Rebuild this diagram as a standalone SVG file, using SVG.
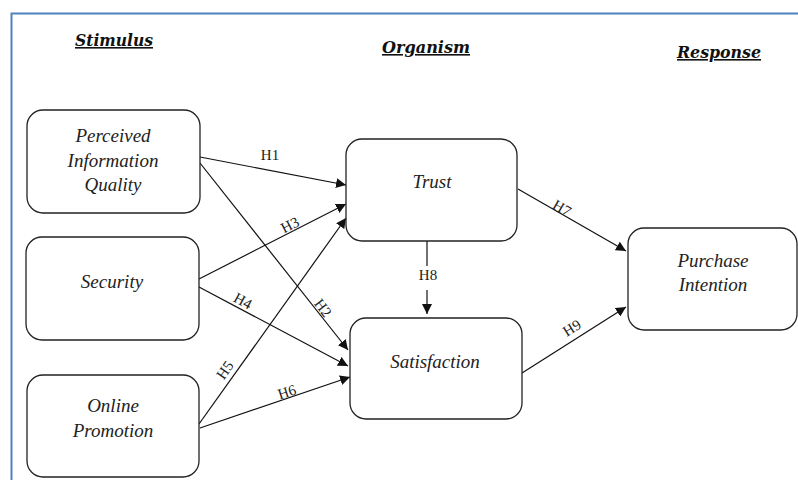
<svg xmlns="http://www.w3.org/2000/svg" width="798" height="480" viewBox="0 0 798 480">
<style>
.box{fill:#fff;stroke:#222;stroke-width:1.3}
.nt{font-family:"Liberation Serif",serif;font-style:italic;font-size:19px;fill:#222;text-anchor:middle}
.hd{font-family:"DejaVu Serif","Liberation Serif",serif;font-style:italic;font-weight:bold;font-size:16px;fill:#111;text-decoration:underline}
.lb{font-family:"Liberation Serif",serif;font-size:15px;fill:#222;text-anchor:middle}
.cn{stroke:#111;stroke-width:1.2;fill:none}
</style>
<defs>
<marker id="ah" viewBox="0 0 10 10" refX="10" refY="5" markerWidth="10" markerHeight="10" markerUnits="userSpaceOnUse" orient="auto">
<path d="M0,0 L10,5 L0,10 Z" fill="#111"/>
</marker>
</defs>
<rect width="798" height="480" fill="#fff"/>
<path d="M11.5,480 V13.5 H798" fill="none" stroke="#4f81bd" stroke-width="2"/>
<g id="headings">
<text class="hd" x="75" y="46" textLength="78" lengthAdjust="spacingAndGlyphs">Stimulus</text>
<text class="hd" x="382" y="53" textLength="88" lengthAdjust="spacingAndGlyphs">Organism</text>
<text class="hd" x="677" y="58" textLength="84" lengthAdjust="spacingAndGlyphs">Response</text>
</g>
<g id="connectors">
<line class="cn" x1="200" y1="157" x2="346" y2="185" marker-end="url(#ah)"/>
<line class="cn" x1="200" y1="163" x2="348" y2="350" marker-end="url(#ah)"/>
<line class="cn" x1="199" y1="279" x2="346" y2="204" marker-end="url(#ah)"/>
<line class="cn" x1="199" y1="287" x2="348" y2="366" marker-end="url(#ah)"/>
<line class="cn" x1="199" y1="424" x2="346" y2="218" marker-end="url(#ah)"/>
<line class="cn" x1="200" y1="428" x2="350" y2="377" marker-end="url(#ah)"/>
<line class="cn" x1="518" y1="189" x2="626" y2="251" marker-end="url(#ah)"/>
<line class="cn" x1="427" y1="241" x2="427" y2="266"/>
<line class="cn" x1="427" y1="290" x2="427" y2="314" marker-end="url(#ah)"/>
<line class="cn" x1="522" y1="373" x2="626" y2="307" marker-end="url(#ah)"/>
<text class="lb" x="270" y="160">H1</text>
<text class="lb" x="323" y="313" transform="rotate(52 323 308)">H2</text>
<text class="lb" x="290" y="230" transform="rotate(-27 290 225)">H3</text>
<text class="lb" x="243" y="306" transform="rotate(28 243 301)">H4</text>
<text class="lb" x="225" y="375" transform="rotate(-55 225 370)">H5</text>
<text class="lb" x="287" y="397" transform="rotate(-18 287 392)">H6</text>
<text class="lb" x="562" y="213" transform="rotate(30 562 208)">H7</text>
<text class="lb" x="428" y="280">H8</text>
<text class="lb" x="572" y="333" transform="rotate(-32 572 328)">H9</text>
</g>
<g id="piq">
<rect class="box" x="27" y="110" width="173" height="103" rx="16"/>
<text class="nt" x="113" y="142">Perceived</text>
<text class="nt" x="113" y="167">Information</text>
<text class="nt" x="113" y="191">Quality</text>
</g>
<g id="security">
<rect class="box" x="26" y="237" width="173" height="103" rx="16"/>
<text class="nt" x="112" y="288">Security</text>
</g>
<g id="online-promotion">
<rect class="box" x="27" y="375" width="172" height="102" rx="16"/>
<text class="nt" x="113" y="412">Online</text>
<text class="nt" x="113" y="437">Promotion</text>
</g>
<g id="trust">
<rect class="box" x="346" y="139" width="171" height="102" rx="16"/>
<text class="nt" x="432" y="188">Trust</text>
</g>
<g id="satisfaction">
<rect class="box" x="350" y="318" width="172" height="101" rx="16"/>
<text class="nt" x="435" y="368">Satisfaction</text>
</g>
<g id="purchase-intention">
<rect class="box" x="628" y="228" width="169" height="102" rx="16"/>
<text class="nt" x="713" y="267">Purchase</text>
<text class="nt" x="713" y="291">Intention</text>
</g>
</svg>
